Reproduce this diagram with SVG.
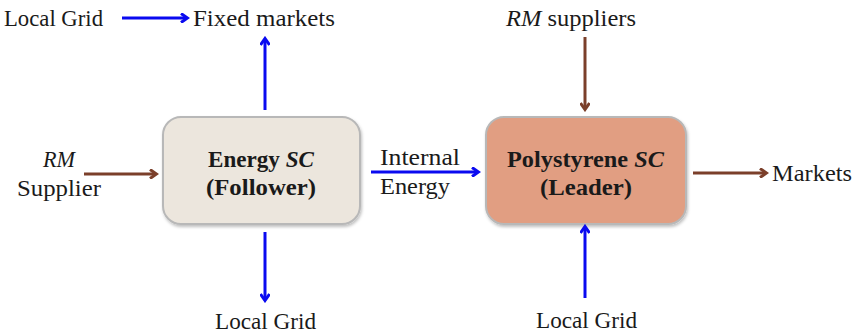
<svg xmlns="http://www.w3.org/2000/svg" width="854" height="333" viewBox="0 0 854 333">
<style>
text{font-family:"Liberation Serif","Times New Roman",serif;font-size:23px;fill:#1a1a1a}
.b{font-weight:bold;font-size:23px}
.c{text-anchor:middle}
.blue{stroke:#0a0af0;stroke-width:3;fill:none}
.brown{stroke:#7b3f2a;stroke-width:3;fill:none}
.box{stroke:#b8b8b8;stroke-width:2}
</style>
<defs>
<marker id="ab" markerWidth="10" markerHeight="10" refX="7" refY="5" orient="auto" markerUnits="userSpaceOnUse">
<path d="M1,0.5 L7.5,5 L1,9.5" fill="none" stroke="#0a0af0" stroke-width="3" stroke-linejoin="miter"/>
</marker>
<marker id="ar" markerWidth="10" markerHeight="10" refX="7" refY="5" orient="auto" markerUnits="userSpaceOnUse">
<path d="M1,0.5 L7.5,5 L1,9.5" fill="none" stroke="#7b3f2a" stroke-width="3"/>
</marker>
<filter id="sh" x="-10%" y="-10%" width="120%" height="130%">
<feDropShadow dx="1" dy="2" stdDeviation="1.5" flood-color="#000" flood-opacity="0.25"/>
</filter>
</defs>
<g id="energy">
<rect class="box" x="163" y="117" width="197" height="107" rx="18" fill="#ece6dd" filter="url(#sh)"/>
<text class="b" x="208" y="167" textLength="106" lengthAdjust="spacingAndGlyphs">Energy <tspan font-style="italic">SC</tspan></text>
<text class="b" x="206" y="195" textLength="110" lengthAdjust="spacingAndGlyphs">(Follower)</text>
</g>
<g id="polystyrene">
<rect class="box" x="486" y="117" width="200" height="107" rx="18" fill="#e19e82" filter="url(#sh)"/>
<text class="b" x="507" y="167" textLength="157" lengthAdjust="spacingAndGlyphs">Polystyrene <tspan font-style="italic">SC</tspan></text>
<text class="b" x="540" y="195" textLength="92" lengthAdjust="spacingAndGlyphs">(Leader)</text>
</g>
<g id="labels">
<text x="4" y="26" textLength="99" lengthAdjust="spacingAndGlyphs">Local Grid</text>
<text x="193" y="26" textLength="142" lengthAdjust="spacingAndGlyphs">Fixed markets</text>
<text x="506" y="26" textLength="130" lengthAdjust="spacingAndGlyphs"><tspan font-style="italic">RM</tspan> suppliers</text>
<text x="43" y="167" font-style="italic" textLength="32" lengthAdjust="spacingAndGlyphs">RM</text>
<text x="17" y="196" textLength="84" lengthAdjust="spacingAndGlyphs">Supplier</text>
<text x="380" y="165" textLength="80" lengthAdjust="spacingAndGlyphs">Internal</text>
<text x="380" y="194" textLength="70" lengthAdjust="spacingAndGlyphs">Energy</text>
<text x="772" y="181" textLength="80" lengthAdjust="spacingAndGlyphs">Markets</text>
<text x="215" y="329" textLength="101" lengthAdjust="spacingAndGlyphs">Local Grid</text>
<text x="536" y="328" textLength="101" lengthAdjust="spacingAndGlyphs">Local Grid</text>
</g>
<g id="connectors">
<line class="blue" x1="122" y1="18" x2="187" y2="18" marker-end="url(#ab)"/>
<line class="blue" x1="265" y1="110" x2="265" y2="39" marker-end="url(#ab)"/>
<line class="brown" x1="585" y1="37" x2="585" y2="109" marker-end="url(#ar)"/>
<line class="brown" x1="84" y1="174" x2="156" y2="174" marker-end="url(#ar)"/>
<line class="blue" x1="371" y1="172" x2="478" y2="172" marker-end="url(#ab)"/>
<line class="brown" x1="693" y1="173" x2="766" y2="173" marker-end="url(#ar)"/>
<line class="blue" x1="265" y1="232" x2="265" y2="300" marker-end="url(#ab)"/>
<line class="blue" x1="585" y1="298" x2="585" y2="227" marker-end="url(#ab)"/>
</g>
</svg>
